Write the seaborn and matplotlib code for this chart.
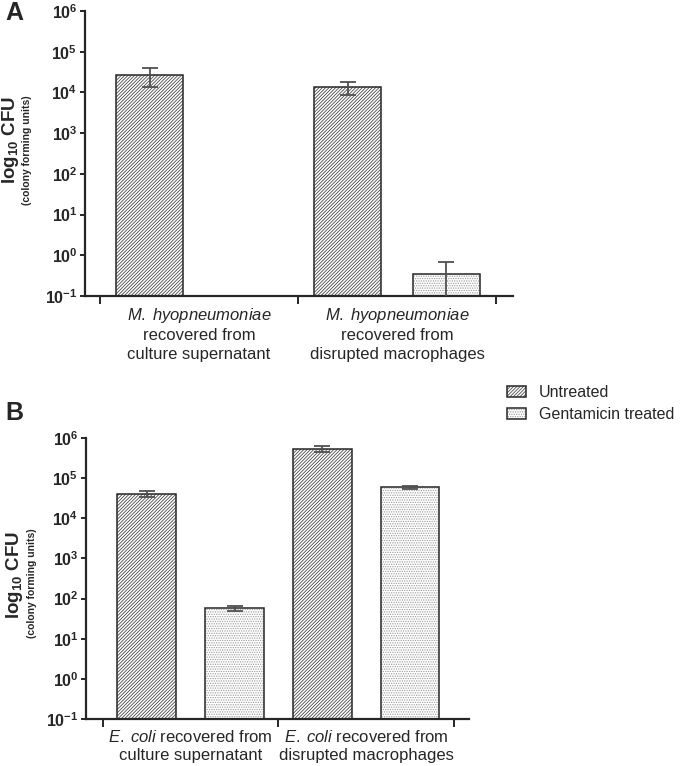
import numpy as np
import pandas as pd
import matplotlib
matplotlib.use("Agg")
import matplotlib.pyplot as plt
import seaborn as sns
from matplotlib.patches import Rectangle
from matplotlib.legend_handler import HandlerTuple

# ---------------- data ----------------
treatments = ["Untreated", "Gentamicin treated"]

a_categories = [
    "$\\mathit{M.\\;hyopneumoniae}$\nrecovered from\nculture supernatant",
    "$\\mathit{M.\\;hyopneumoniae}$\nrecovered from\ndisrupted macrophages",
]
a_untreated = [2.7e4, 1.35e4]
a_untreated_sd = [1.35e4, 4.8e3]
a_gentamicin = [np.nan, 0.35]
a_gentamicin_sd = [np.nan, 0.32]

b_categories = [
    "$\\mathit{E.\\;coli}$ recovered from\nculture supernatant",
    "$\\mathit{E.\\;coli}$ recovered from\ndisrupted macrophages",
]
b_untreated = [4.0e4, 5.4e5]
b_untreated_sd = [7e3, 9e4]
b_gentamicin = [57, 6.0e4]
b_gentamicin_sd = [8, 5e3]

y_exponents = [-1, 0, 1, 2, 3, 4, 5, 6]

# ---------------- style ----------------
sns.set_style("ticks")
plt.rcParams["font.family"] = ["Liberation Sans", "DejaVu Sans"]
plt.rcParams["mathtext.fontset"] = "custom"
plt.rcParams["mathtext.rm"] = "Liberation Sans"
plt.rcParams["mathtext.it"] = "Liberation Sans:italic"
plt.rcParams["mathtext.bf"] = "Liberation Sans:bold"
plt.rcParams["hatch.linewidth"] = 0.6

INK = "#262626"
hatches = ["//////////", "......."]
hatch_colors = ["#4a4a4a", "#9a9a9a"]

fig = plt.figure(figsize=(6.85, 7.66), dpi=100)
W, H = 685, 766
axA = fig.add_axes([85 / W, 1 - 296 / H, 428 / W, 285 / H])
axB = fig.add_axes([86 / W, 1 - 719 / H, 383 / W, 281 / H])


def draw(ax, cats, unt, unt_sd, gen, gen_sd, xlim):
    df = pd.DataFrame({
        "category": cats * 2,
        "treatment": [t for t in treatments for _ in cats],
        "cfu": list(unt) + list(gen),
        "sd": list(unt_sd) + list(gen_sd),
    })
    sns.barplot(data=df, x="category", y="cfu", hue="treatment",
                order=cats, hue_order=treatments,
                palette=["white", "white"], width=1.0, gap=0.33,
                errorbar=None, legend=False, ax=ax)
    ax.set_yscale("log")
    handles = []
    bar_containers = list(ax.containers)
    for i, cont in enumerate(bar_containers):
        first = None
        for p in cont.patches:
            h = p.get_height()
            if not np.isfinite(h) or h <= 0:
                p.set_visible(False)
                continue
            p.set_hatch(hatches[i])
            p.set_edgecolor(hatch_colors[i])
            p.set_facecolor("white")
            p.set_linewidth(0)
            outline = Rectangle(p.get_xy(), p.get_width(), h, fill=False,
                                edgecolor=INK, linewidth=1.1, zorder=3)
            ax.add_patch(outline)
            xc = p.get_x() + p.get_width() / 2
            ci = int(round(xc))
            row = df[(df.category == cats[ci]) & (df.treatment == treatments[i])]
            sd = float(row.sd.iloc[0])
            ax.errorbar(xc, h, yerr=sd, fmt="none", ecolor="#505050",
                        elinewidth=1.3, capsize=6, capthick=1.3, zorder=4)
            if first is None:
                first = (p, outline)
        handles.append(first)
    ax.set_xlim(*xlim)
    ax.set_ylim(10.0 ** y_exponents[0], 10.0 ** y_exponents[-1])
    ax.set_yticks([10.0 ** e for e in y_exponents],
                  labels=["$\\mathbf{10^{%d}}$" % e for e in y_exponents])
    ax.yaxis.set_minor_locator(matplotlib.ticker.NullLocator())
    ax.set_xticks(range(len(cats)), labels=cats)
    ax.set_xticks([k - 0.5 for k in range(len(cats) + 1)], minor=True)
    ax.tick_params(axis="x", which="major", length=0, pad=7, labelsize=12,
                   colors=INK)
    ax.tick_params(axis="x", which="minor", length=6, width=1.4, color=INK)
    ax.tick_params(axis="y", which="major", length=3.5, width=1.4, pad=2,
                   labelsize=11.5, color=INK, labelcolor=INK)
    for lab in ax.get_xticklabels():
        lab.set_linespacing(1.3)
    for s in ["top", "right"]:
        ax.spines[s].set_visible(False)
    for s in ["left", "bottom"]:
        ax.spines[s].set_linewidth(1.6)
        ax.spines[s].set_color(INK)
    ax.set_xlabel("")
    ax.set_ylabel("")
    return handles


draw(axA, a_categories, a_untreated, a_untreated_sd, a_gentamicin,
     a_gentamicin_sd, (-0.576, 1.586))
hB = draw(axB, b_categories, b_untreated, b_untreated_sd, b_gentamicin,
          b_gentamicin_sd, (-0.597, 1.586))

# y-axis labels
for (x1, y1, x2, y2) in [(11, 140, 27, 150), (15, 575, 32, 583)]:
    fig.text(x1 / W, 1 - y1 / H, "$\\mathbf{log_{10}\\ CFU}$", rotation=90,
             ha="center", va="center", fontsize=13.5, color=INK)
    fig.text(x2 / W, 1 - y2 / H, "(colony forming units)", rotation=90,
             ha="center", va="center", fontsize=7.5, fontweight="bold",
             color=INK)

# panel letters
fig.text(5 / W, 1 - 13 / H, "A", fontsize=18, fontweight="bold",
         ha="left", va="center")
fig.text(5 / W, 1 - 413 / H, "B", fontsize=18, fontweight="bold",
         ha="left", va="center")

# legend
fig.legend(handles=hB, labels=treatments,
           handler_map={tuple: HandlerTuple(ndivide=1, pad=0)},
           loc="upper left", bbox_to_anchor=(507 / W, 1 - 385 / H),
           frameon=False, fontsize=11.5, handlelength=1.2, handleheight=0.7,
           labelspacing=0.45, handletextpad=0.8, borderpad=0, borderaxespad=0)

fig.savefig("out.png", dpi=100)
